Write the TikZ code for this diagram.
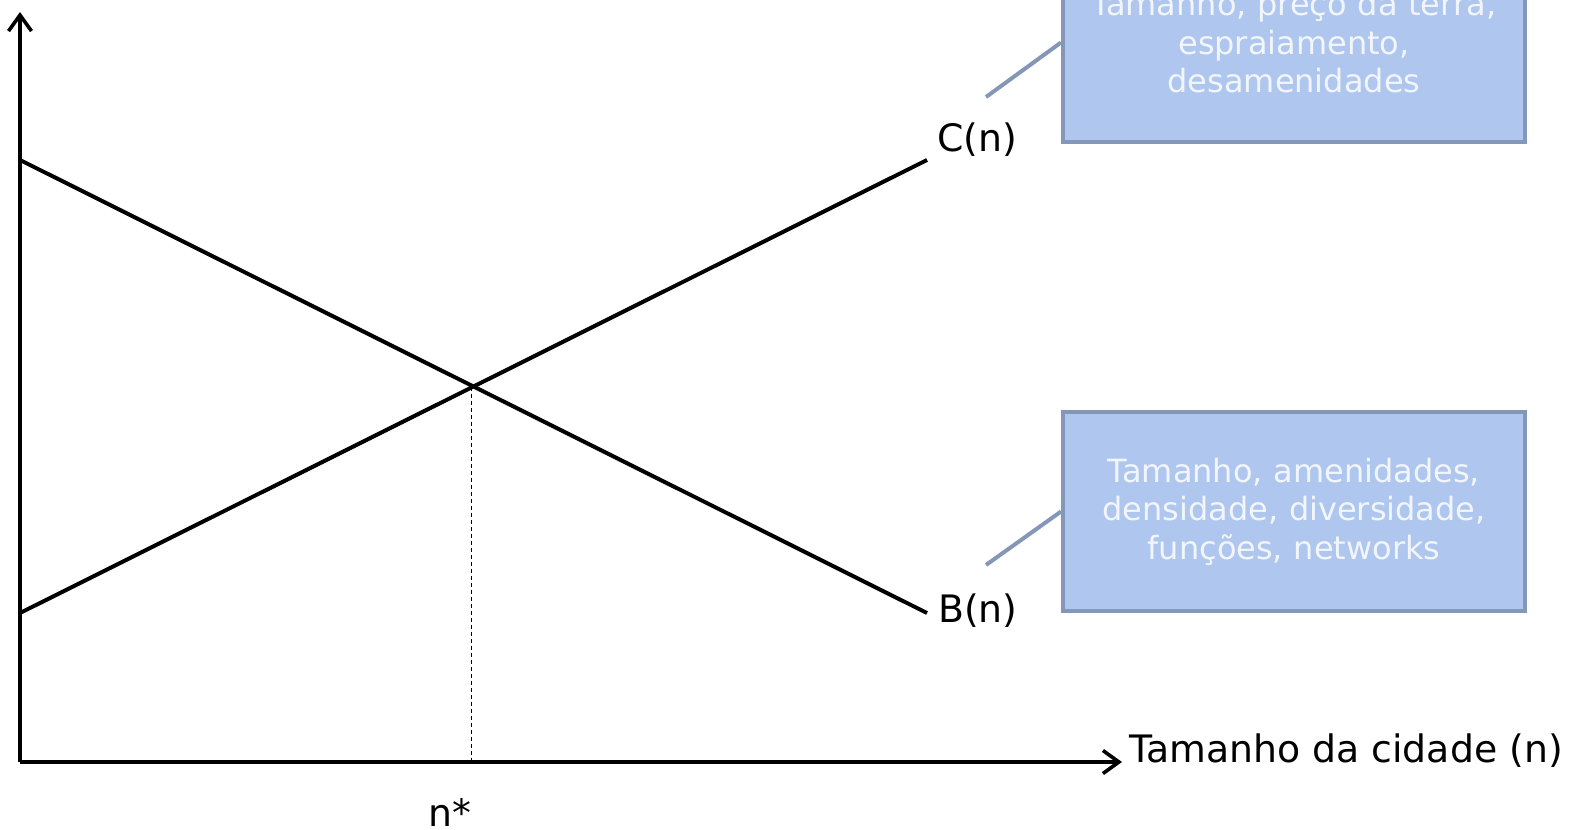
\documentclass[tikz,border=0pt]{standalone}
\usepackage{fontspec}
\setmainfont{DejaVu Sans}
\usetikzlibrary{arrows.meta}
\definecolor{boxfill}{HTML}{AFC6EE}
\definecolor{boxline}{HTML}{8497B8}
\definecolor{boxtext}{HTML}{F2F5FC}
\tikzset{
  curve/.style={line width=2pt, black},
  axisline/.style={line width=2pt, black, -{Straight Barb[length=8pt,width=11.5pt,line width=1.8pt]}},
  guide/.style={line width=0.5pt, black, dash pattern=on 2pt off 1.5pt},
  lbl/.style={font=\fontsize{18.9}{22}\selectfont, inner sep=0pt},
  infobox/.style={draw=boxline, fill=boxfill, line width=2pt, minimum width=231pt, minimum height=99.5pt,
    text width=224pt, align=center, text=boxtext, font=\fontsize{16}{19.25}\selectfont, inner sep=0pt},
  callout/.style={draw=boxline, line width=2pt}
}
\begin{document}
\begin{tikzpicture}[x=0.5pt,y=-0.5pt]
\useasboundingbox (0,0) rectangle (1570,830);
\clip (0,0) rectangle (1570,830);
% axes
\coordinate (O) at (20,762);
\coordinate (Ytip) at (20,12);
\coordinate (Xtip) at (1122,762);
\draw[axisline] (O) -- (Ytip);
\draw[axisline] (O) -- (Xtip);
% curves
\coordinate (B0) at (20,160);
\coordinate (B1) at (927,613);
\coordinate (C0) at (20,613);
\coordinate (C1) at (927,160);
\draw[curve] (B0) -- (B1);
\draw[curve] (C0) -- (C1);
\coordinate (I) at (471,386.5);
\draw[guide] (I) -- (I |- O);
% labels
\node[lbl] (cl) at (977,140) {C(n)};
\node[lbl] (bl) at (978,611) {B(n)};
\node[lbl, anchor=west] (xl) at (1129,751) {Tamanho da cidade (n)};
\node[lbl] (ns) at (450,812) {n*};
% boxes
\node[infobox] (boxC) at (1294,42.5) {Tamanho, preço da terra,\\espraiamento,\\desamenidades};
\node[infobox] (boxB) at (1294,511.5) {Tamanho, amenidades,\\densidade, diversidade,\\funções, networks};
\coordinate (cC) at (986,97);
\coordinate (cB) at (986,565);
\draw[callout] (cC) -- (boxC.west);
\draw[callout] (cB) -- (boxB.west);
\end{tikzpicture}
\end{document}
